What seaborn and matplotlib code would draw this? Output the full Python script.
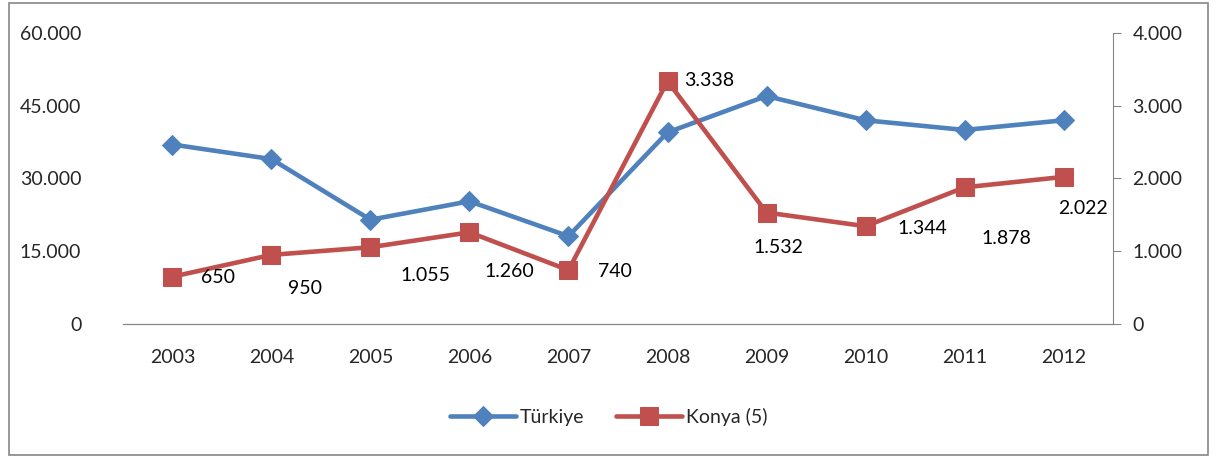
import matplotlib
matplotlib.use("Agg")
import matplotlib.pyplot as plt
import pandas as pd
import seaborn as sns
from matplotlib.ticker import FuncFormatter

# data
years = ["2003", "2004", "2005", "2006", "2007", "2008", "2009", "2010", "2011", "2012"]
turkiye = [37000, 34000, 21500, 25300, 18100, 39500, 47000, 42000, 40000, 42000]
konya = [650, 950, 1055, 1260, 740, 3338, 1532, 1344, 1878, 2022]
konya_labels = ["650", "950", "1.055", "1.260", "740", "3.338", "1.532", "1.344", "1.878", "2.022"]

blue = "#4F81BD"
red = "#C0504D"
fs = 14

sns.set_style("white")
plt.rcParams["font.family"] = ["Lato", "DejaVu Sans"]

df = pd.DataFrame({"year": years, "turkiye": turkiye, "konya": konya})
df["x"] = range(len(years))

fig = plt.figure(figsize=(12.17, 4.58), dpi=100)
ax = fig.add_axes([0.101, 0.2926, 0.8136, 0.6354])
ax2 = ax.twinx()

sns.lineplot(data=df, x="x", y="turkiye", ax=ax, color=blue, linewidth=3.3,
             marker="D", markersize=10, markeredgecolor=blue, label="Türkiye", legend=False)
sns.lineplot(data=df, x="x", y="konya", ax=ax2, color=red, linewidth=3.3,
             marker="s", markersize=12.5, markeredgecolor=red, label="Konya (5)", legend=False)

# label offsets in pixels, picked by eye
offsets = [(46, -1), (34, -34), (55, -28), (40, -39), (46, -1),
           (42, 1), (12, -35), (57, -2), (42, -51), (19, -32)]
for i, (v, lab) in enumerate(zip(konya, konya_labels)):
    ax2.annotate(lab, (i, v), xytext=offsets[i], textcoords="offset pixels",
                 ha="center", va="center", fontsize=fs, color="black")

dot = FuncFormatter(lambda v, p: f"{int(v):,}".replace(",", "."))
ax.set_ylim(0, 60000)
ax.set_yticks([0, 15000, 30000, 45000, 60000])
ax.yaxis.set_major_formatter(dot)
ax2.set_ylim(0, 4000)
ax2.set_yticks([0, 1000, 2000, 3000, 4000])
ax2.yaxis.set_major_formatter(dot)

ax.set_xlim(-0.5, len(years) - 0.5)
ax.set_xticks(df["x"])
ax.set_xticklabels(years)
ax.set_xlabel("")
ax.set_ylabel("")
ax2.set_ylabel("")

for a in (ax, ax2):
    for s in a.spines.values():
        s.set_visible(False)
    a.spines["bottom"].set_visible(True)
    a.spines["bottom"].set_color("#868686")
ax2.spines["right"].set_visible(True)
ax2.spines["right"].set_color("#868686")

ax.tick_params(axis="y", length=0, pad=30, labelsize=fs)
ax.tick_params(axis="x", length=0, pad=18, labelsize=fs)
ax2.tick_params(axis="y", length=6, color="#868686", direction="out", pad=8, labelsize=fs)

h1, l1 = ax.get_legend_handles_labels()
h2, l2 = ax2.get_legend_handles_labels()
fig.legend(h1 + h2, l1 + l2, loc="center", bbox_to_anchor=(0.5, 0.09), ncol=2,
           frameon=False, fontsize=fs, handlelength=3.4, columnspacing=1.6, handletextpad=0.2)

# outer border like the chart area frame
fig.patches.append(plt.Rectangle((0.007, 0.007), 0.986, 0.986, transform=fig.transFigure,
                                 fill=False, edgecolor="#868686", linewidth=1.2))

fig.savefig("out.png", dpi=100)
